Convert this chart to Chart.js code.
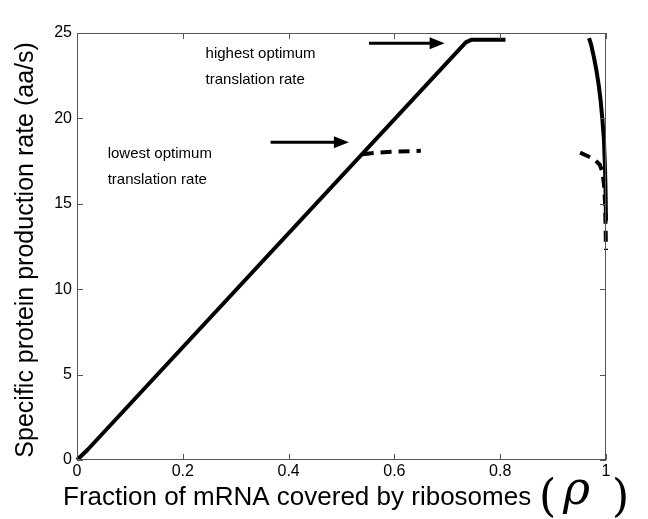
<!DOCTYPE html>
<html><head><meta charset="utf-8">
<script src="https://cdn.jsdelivr.net/npm/chart.js@4.4.1/dist/chart.umd.min.js"></script>
<style>html,body{margin:0;padding:0;background:#fff}#wrap{width:648px;height:519px}</style>
</head><body><div id="wrap"><canvas id="c" width="648" height="519"></canvas></div>
<script>
// Data
const mainX = [0, 0.02, 0.735, 0.745, 0.81];
const mainY = [0, 0.6, 24.45, 24.6, 24.6];
const lowDashX = [0.54, 0.57, 0.6, 0.65];
const lowDashY = [17.9, 18.0, 18.05, 18.1];
const rightSolidX = [0.968, 0.972, 0.977, 0.982, 0.986, 0.99, 0.993, 0.996, 0.998, 0.999, 1.0];
const rightSolidY = [24.7, 24.3, 23.6, 22.8, 22.0, 21.0, 20.0, 18.8, 17.2, 16.0, 14.0];
const rightDashX = [0.951, 0.965, 0.978, 0.988, 0.993, 0.996, 0.998, 0.999, 1.0];
const rightDashY = [18.0, 17.8, 17.6, 17.3, 16.9, 16.2, 15.2, 14.0, 12.3];
const xTicks = [0, 0.2, 0.4, 0.6, 0.8, 1];
const yTicks = [0, 5, 10, 15, 20, 25];
const xTitle = "Fraction of mRNA covered by ribosomes";
const yTitle = "Specific protein production rate (aa/s)";
const noteHigh = ["highest optimum", "translation rate"];
const noteLow = ["lowest optimum", "translation rate"];

const pts = (xs, ys) => xs.map((x, i) => ({x, y: ys[i]}));
const FONT = "'Liberation Sans', Arial, Helvetica, sans-serif";

const decor = {
  id: 'decor',
  afterDraw(chart) {
    const ctx = chart.ctx, xs = chart.scales.x, ys = chart.scales.y;
    const a = chart.chartArea;
    ctx.save();
    ctx.strokeStyle = '#555'; ctx.lineWidth = 1;
    ctx.strokeRect(a.left + 0.5, a.top + 0.5, a.right - a.left - 1, a.bottom - a.top - 1);
    ctx.beginPath();
    xTicks.forEach(v => {
      const p = Math.round(xs.getPixelForValue(v)) + 0.5;
      ctx.moveTo(p, a.bottom); ctx.lineTo(p, a.bottom - 6);
      ctx.moveTo(p, a.top); ctx.lineTo(p, a.top + 6);
    });
    yTicks.forEach(v => {
      const p = Math.round(ys.getPixelForValue(v)) + 0.5;
      ctx.moveTo(a.left, p); ctx.lineTo(a.left + 6, p);
      ctx.moveTo(a.right, p); ctx.lineTo(a.right - 6, p);
    });
    ctx.stroke();
    ctx.fillStyle = '#000'; ctx.font = '15px ' + FONT; ctx.textBaseline = 'middle';
    const tx = (x, y, lines) => {
      lines.forEach((l, i) => ctx.fillText(l, xs.getPixelForValue(x), ys.getPixelForValue(y) + i * 26));
    };
    ctx.textAlign = 'left';
    tx(0.243, 23.8, noteHigh);
    tx(0.058, 17.9, noteLow);
    const arrow = (x0, y0, x1, y1) => {
      const p0 = xs.getPixelForValue(x0), q0 = ys.getPixelForValue(y0);
      const p1 = xs.getPixelForValue(x1), q1 = ys.getPixelForValue(y1);
      ctx.strokeStyle = '#000'; ctx.lineWidth = 3;
      ctx.beginPath(); ctx.moveTo(p0, q0); ctx.lineTo(p1 - 10, q1); ctx.stroke();
      ctx.beginPath(); ctx.moveTo(p1, q1); ctx.lineTo(p1 - 15, q1 - 6); ctx.lineTo(p1 - 15, q1 + 6); ctx.closePath(); ctx.fill();
    };
    arrow(0.552, 24.4, 0.695, 24.4);
    arrow(0.366, 18.6, 0.514, 18.6);
    ctx.textAlign = 'left'; ctx.textBaseline = 'alphabetic';
    ctx.font = '26px ' + FONT;
    ctx.fillText(xTitle, 63, 505);
    ctx.font = '44px "DejaVu Serif", serif';
    ctx.fillText('(', 539, 511);
    ctx.fillText(')', 612, 511);
    ctx.font = 'italic 46px "DejaVu Serif", serif';
    ctx.fillText('ρ', 563, 504);
    ctx.save();
    ctx.translate(33, ys.getPixelForValue(12.3));
    ctx.rotate(-Math.PI / 2);
    ctx.textAlign = 'center'; ctx.textBaseline = 'alphabetic';
    ctx.font = '25px ' + FONT;
    ctx.fillText(yTitle, 0, 0);
    ctx.restore();
    ctx.restore();
  }
};

const lineDs = (label, data, dash) => ({
  label, data, showLine: true, borderColor: '#000', borderWidth: 4,
  borderDash: dash, pointRadius: 0, fill: false, tension: 0, clip: false,
  borderCapStyle: 'butt', borderJoinStyle: 'round'
});

new Chart(document.getElementById('c'), {
  type: 'scatter',
  data: {
    datasets: [
      lineDs('main', pts(mainX, mainY), []),
      lineDs('lowDash', pts(lowDashX, lowDashY), [11, 7]),
      lineDs('rightSolid', pts(rightSolidX, rightSolidY), []),
      lineDs('rightDash', pts(rightDashX, rightDashY), [11, 7])
    ]
  },
  options: {
    responsive: false, animation: false,
    layout: { padding: { top: 33, right: 42, left: 0, bottom: 0 } },
    plugins: { legend: { display: false }, tooltip: { enabled: false } },
    scales: {
      x: {
        type: 'linear', min: 0, max: 1,
        afterFit: s => { s.height = 59; },
        afterBuildTicks: s => { s.ticks = xTicks.map(v => ({value: v})); },
        grid: { display: false, drawTicks: false },
        border: { display: false },
        ticks: { color: '#000', font: { size: 16, family: FONT }, padding: 2, maxRotation: 0,
          callback: v => String(v) }
      },
      y: {
        type: 'linear', min: 0, max: 25,
        afterFit: s => { s.width = 77; },
        afterBuildTicks: s => { s.ticks = yTicks.map(v => ({value: v})); },
        grid: { display: false, drawTicks: false },
        border: { display: false },
        ticks: { color: '#000', font: { size: 16, family: FONT }, padding: 5,
          callback: v => String(v) }
      }
    }
  },
  plugins: [decor]
});
</script></body></html>
